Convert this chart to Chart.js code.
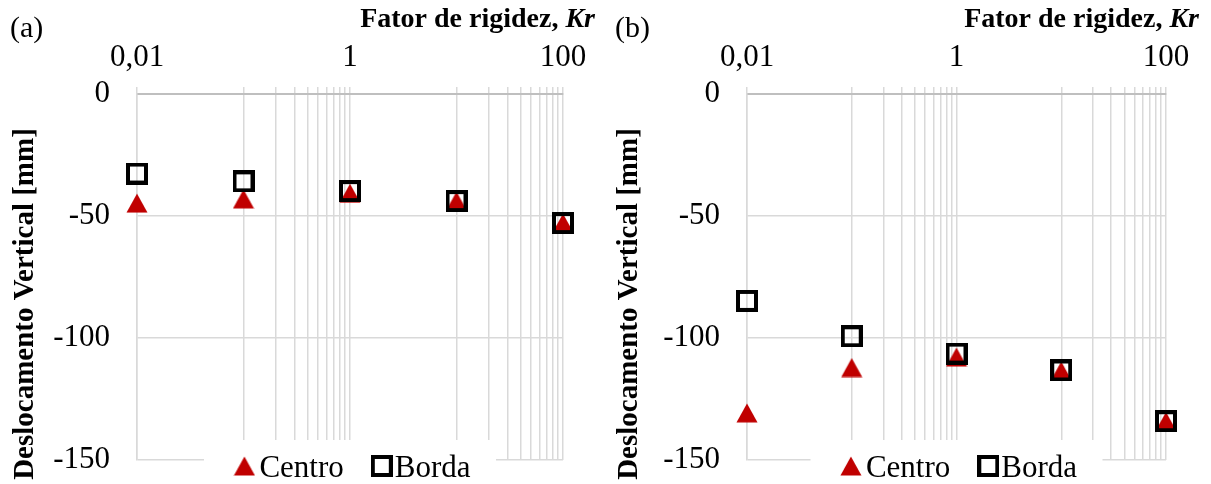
<!DOCTYPE html>
<html lang="pt">
<head>
<meta charset="utf-8">
<title>Deslocamento vertical x Kr</title>
<script src="https://cdn.jsdelivr.net/npm/chart.js@4.4.1/dist/chart.umd.min.js"></script>
<style>
  html, body { margin: 0; padding: 0; background: #fff; }
  #wrap { position: relative; width: 1211px; height: 484px; overflow: hidden; }
  .panel { position: absolute; top: 0; }
  #panelA { left: 0; }
  #panelB { left: 606px; }
</style>
</head>
<body>
<div id="wrap">
  <div class="panel" id="panelA"><canvas id="chartA" width="606" height="484"></canvas></div>
  <div class="panel" id="panelB"><canvas id="chartB" width="605" height="484"></canvas></div>
</div>
<script>
// Fator de rigidez (Kr) - log axis on top
const kr = [0.01, 0.1, 1, 10, 100];

// (a) values, mm
const centroA = [-44.7, -43.0, -40.7, -43.9, -52.9];
const bordaA  = [-32.6, -35.8, -39.8, -43.9, -52.9];

// (b)
const centroB = [-130.7, -112.1, -107.8, -113.5, -134.2];
const bordaB  = [-84.8, -99.3, -106.4, -113.3, -134.1];

// gridlines on the Kr axis (Excel style, base 100)
const xGridValues = [0.01, 0.1, 0.2, 0.3, 0.4, 0.5, 0.6, 0.7, 0.8, 0.9, 1,
                     10, 20, 30, 40, 50, 60, 70, 80, 90, 100];
const xTickLabels = { 0.01: '0,01', 1: '1', 100: '100' };
const yTicks = [-150, -100, -50, 0];

const SERIF = '"Liberation Serif", "Times New Roman", serif';
const RED = '#C00000';

Chart.defaults.font.family = SERIF;
Chart.defaults.color = '#000';

// marker images so they sit centred on the value like in Excel
function makeTriangle() {
  const c = document.createElement('canvas');
  c.width = 22; c.height = 20;
  const g = c.getContext('2d');
  g.fillStyle = RED;
  g.beginPath();
  g.moveTo(11, 0.5);
  g.lineTo(21.5, 19.5);
  g.lineTo(0.5, 19.5);
  g.closePath();
  g.fill();
  return c;
}

function makeSquare() {
  const c = document.createElement('canvas');
  c.width = 22; c.height = 22;
  const g = c.getContext('2d');
  g.strokeStyle = '#000';
  g.lineWidth = 4;
  g.strokeRect(2, 2, 18, 18);
  return c;
}

const triImg = makeTriangle();
const sqImg = makeSquare();

function toPoints(values) {
  return kr.map((k, i) => ({ x: k, y: values[i] }));
}

// titles, panel letter and the in-plot legend
const decorPlugin = {
  id: 'decor',
  afterDraw(chart, args, opts) {
    const ctx = chart.ctx;
    const area = chart.chartArea;
    ctx.save();
    ctx.fillStyle = '#000';
    ctx.textBaseline = 'alphabetic';

    // (a) / (b)
    ctx.font = '30px ' + SERIF;
    ctx.textAlign = 'left';
    ctx.fillText(opts.letter, opts.letterX, 37);

    // axis title, "Kr" in bold italic
    ctx.textAlign = 'right';
    ctx.font = 'italic bold 28px ' + SERIF;
    const wKr = ctx.measureText('Kr').width;
    ctx.fillText('Kr', opts.titleRight, 27);
    ctx.font = 'bold 28px ' + SERIF;
    ctx.fillText('Fator de rigidez, ', opts.titleRight - wKr, 27);

    // y title
    ctx.save();
    ctx.translate(opts.yTitleX, 304);
    ctx.rotate(-Math.PI / 2);
    ctx.textAlign = 'center';
    ctx.font = 'bold 29px ' + SERIF;
    ctx.fillText('Deslocamento Vertical [mm]', 0, 0);
    ctx.restore();

    // legend box over the bottom of the plot
    const cx = (area.left + area.right) / 2;
    ctx.fillStyle = '#fff';
    ctx.fillRect(cx - 146, 440, 292, 44);

    ctx.font = '31px ' + SERIF;
    ctx.textAlign = 'left';
    ctx.fillStyle = '#000';
    const wC = ctx.measureText('Centro').width;
    const wB = ctx.measureText('Borda').width;
    const total = triImg.width + 4 + wC + 27 + sqImg.width + 2 + wB;
    let x = cx - total / 2 + 2;
    const my = 466;
    ctx.drawImage(triImg, x, my - triImg.height / 2);
    x += triImg.width + 4;
    ctx.fillText('Centro', x, 477);
    x += wC + 27;
    ctx.drawImage(sqImg, x, my - sqImg.height / 2);
    x += sqImg.width + 2;
    ctx.fillText('Borda', x, 477);

    ctx.restore();
  }
};

function makeChart(canvasId, centro, borda, layout) {
  const ctx = document.getElementById(canvasId);
  return new Chart(ctx, {
    type: 'scatter',
    data: {
      datasets: [
        // first dataset is drawn last, so the squares end up on top
        {
          label: 'Borda',
          data: toPoints(borda),
          pointStyle: sqImg,
          pointRadius: 10,
          clip: false
        },
        {
          label: 'Centro',
          data: toPoints(centro),
          pointStyle: triImg,
          pointRadius: 10,
          clip: false
        }
      ]
    },
    options: {
      responsive: false,
      animation: false,
      events: [],
      layout: {
        padding: { left: 0, top: 0, right: layout.padRight, bottom: 24 }
      },
      scales: {
        x: {
          type: 'logarithmic',
          position: 'top',
          min: 0.01,
          max: 100,
          afterBuildTicks(scale) {
            scale.ticks = xGridValues.map(v => ({ value: v, major: false }));
          },
          afterFit(scale) {
            scale.height = 94;
          },
          ticks: {
            autoSkip: false,
            maxRotation: 0,
            padding: 11,
            color: '#000',
            font: { size: 31 },
            callback(value) {
              return xTickLabels[value] || '';
            }
          },
          grid: {
            color: '#d9d9d9',
            lineWidth: 1.5,
            drawTicks: true,
            tickLength: 7
          },
          border: { color: '#bfbfbf', width: 2 }
        },
        y: {
          min: -150,
          max: 0,
          afterBuildTicks(scale) {
            scale.ticks = yTicks.map(v => ({ value: v }));
          },
          afterFit(scale) {
            scale.width = layout.yWidth;
          },
          ticks: {
            // gap to the axis comes from an invisible tick mark,
            // padding would also eat space below the plot
            padding: 0,
            color: '#000',
            font: { size: 31 },
            callback(value) {
              return String(value);
            }
          },
          grid: {
            color: '#d9d9d9',
            lineWidth: 1.5,
            drawTicks: true,
            tickLength: 27,
            tickColor: 'rgba(0,0,0,0)'
          },
          border: { color: '#d9d9d9', width: 1.5 }
        }
      },
      plugins: {
        legend: { display: false },
        tooltip: { enabled: false },
        decor: {
          letter: layout.letter,
          letterX: layout.letterX,
          titleRight: layout.titleRight,
          yTitleX: layout.yTitleX
        }
      }
    },
    plugins: [decorPlugin]
  });
}

makeChart('chartA', centroA, bordaA, {
  letter: '(a)', letterX: 10, titleRight: 595, yTitleX: 33, yWidth: 137, padRight: 43
});
makeChart('chartB', centroB, bordaB, {
  letter: '(b)', letterX: 9, titleRight: 593, yTitleX: 31, yWidth: 141, padRight: 45
});
</script>
</body>
</html>
